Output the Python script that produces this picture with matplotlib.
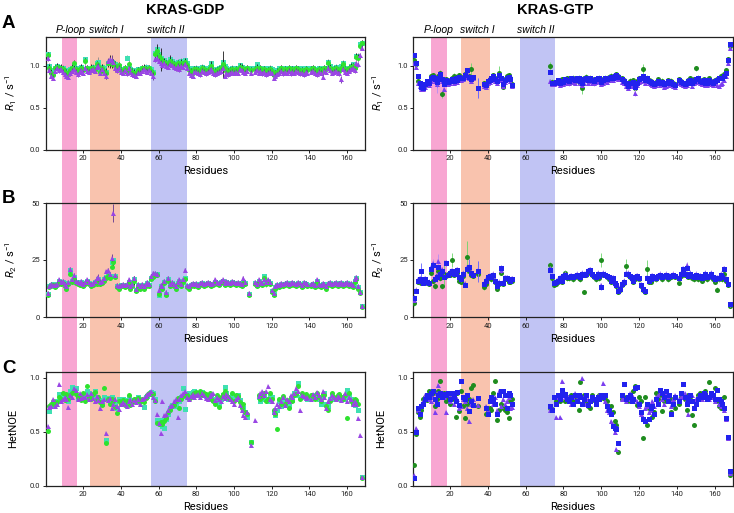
import numpy as np
import matplotlib
matplotlib.use('Agg')
import matplotlib.pyplot as plt
from matplotlib.patches import Rectangle
from matplotlib.transforms import blended_transform_factory

plt.rcParams['font.family'] = ['Roboto', 'DejaVu Sans']
plt.rcParams['mathtext.fontset'] = 'custom'
plt.rcParams['mathtext.rm'] = 'Roboto'
plt.rcParams['mathtext.it'] = 'Roboto:italic'

residues = np.arange(1, 169)
gap = [None] * 19   # residues 54-72 not assigned in KRAS-GTP

##############################################
# KRAS-GDP R1 (green circles, cyan squares, purple triangles)
r1_gdp_green = [
    1.13, 0.98, 0.92, 0.89, 0.97, 0.99, 0.97, 0.98, 0.96, 0.93,
    0.92, 0.90, 0.95, 0.98, 1.03, 0.96, 0.93, 0.96, 0.98, 0.95,
    1.06, 0.97, 0.95, 0.98, 0.97, 0.95, 1.02, 1.00, 0.93, 0.98,
    0.94, 0.91, 1.03, 1.05, 1.02, 1.04, 1.00, 0.97, 1.01, 0.95,
    0.94, 0.97, 0.93, 1.02, 0.95, 0.93, 0.92, 0.91, 0.95, 0.94,
    0.97, 0.98, 0.96, 0.95, 0.97, 0.94, 0.91, 1.14, 1.18, 1.12,
    1.08, 1.04, 1.05, 1.03, 1.02, 1.06, 1.04, 1.02, 1.00, 1.03,
    0.98, 1.04, 1.02, 1.05, 1.01, 0.95, 0.93, 0.92, 0.96, 0.96,
    0.95, 0.93, 0.97, 0.96, 0.94, 0.95, 0.97, 1.00, 0.94, 0.93,
    0.95, 0.96, 0.97, 1.02, 0.98, 0.94, 0.93, 0.95, 0.96, 0.94,
    0.96, 0.95, 0.99, 0.98, 0.96, 0.95, 0.97, None, 0.95, None,
    0.96, 0.98, 0.95, 0.97, 0.94, 0.96, 0.93, 0.95, 0.96, 0.94,
    0.89, 0.91, 0.93, 0.95, 0.97, 0.94, 0.96, 0.95, 0.97, 0.94,
    0.96, 0.95, 0.97, 0.96, 0.94, 0.95, 0.93, 0.96, 0.95, None,
    0.96, 0.97, 0.95, 0.93, 0.96, 0.95, 0.94, 0.97, 0.96, 1.03,
    0.98, 0.95, 0.96, 0.97, 0.95, 0.94, 0.98, 1.02, 0.96, 0.95,
    0.97, 0.99, 1.00, 0.98, 1.11, 1.10, 1.24, 1.27]
r1_gdp_cyan = [
    1.14, 1.00, 0.95, 0.91, 0.98, 1.00, 0.99, 0.97, 0.98, 0.95,
    0.94, 0.92, 0.96, 0.97, 1.00, 0.98, 0.95, 0.97, 0.99, 0.96,
    1.08, 0.98, 0.97, 0.96, 0.99, 0.97, 1.03, 1.05, 0.95, 0.99,
    0.97, 0.93, 1.04, 1.06, 1.05, 1.03, 1.02, 0.99, 1.00, 0.96,
    0.96, 0.98, 1.10, 0.97, 0.96, 0.94, 0.95, 0.93, 0.96, 0.95,
    0.98, 0.97, 0.99, 0.96, 0.98, 0.96, 0.93, 1.15, 1.20, 1.14,
    1.10, 1.06, 1.07, 1.05, 1.04, 1.08, 1.06, 1.04, 1.03, 1.05,
    1.00, 1.06, 1.04, 1.07, 1.03, 0.97, 0.95, 0.94, 0.97, 0.98,
    0.97, 0.95, 0.99, 0.98, 0.96, 0.97, 0.99, 1.03, 0.96, 0.95,
    0.96, 0.98, 0.99, 1.05, 1.00, 0.97, 0.95, 0.96, 0.98, 0.95,
    0.97, 0.97, 1.01, 0.99, 0.97, 0.96, 0.98, None, 0.97, None,
    0.97, 1.02, 0.97, 0.98, 0.96, 0.97, 0.95, 0.97, 0.98, 0.96,
    0.90, 0.93, 0.95, 0.97, 0.98, 0.96, 0.97, 0.97, 0.98, 0.96,
    0.97, 0.97, 0.98, 0.97, 0.96, 0.97, 0.95, 0.97, 0.96, None,
    0.97, 0.98, 0.96, 0.95, 0.97, 0.96, 0.96, 0.98, 0.97, 1.05,
    1.00, 0.97, 0.98, 0.99, 0.97, 0.96, 1.00, 1.04, 0.98, 0.97,
    0.98, 1.00, 1.02, 0.99, 1.12, 1.12, 1.26, 1.28]
r1_gdp_purple = [
    1.09, 0.95, 0.88, 0.86, 0.94, 0.97, 0.95, 0.96, 0.93, 0.90,
    0.88, 0.87, 0.91, 0.94, 0.96, 0.93, 0.90, 0.93, 0.95, 0.92,
    0.98, 0.94, 0.93, 0.95, 0.96, 0.94, 0.99, 1.00, 0.92, 0.96,
    0.92, 0.88, 1.06, 1.08, 1.07, 1.05, 0.98, 0.95, 0.98, 0.93,
    0.92, 0.95, 0.91, 0.97, 0.93, 0.90, 0.89, 0.88, 0.92, 0.92,
    0.94, 0.96, 0.94, 0.93, 0.95, 0.92, 0.88, 1.08, 1.10, 1.06,
    1.04, 1.01, 1.03, 1.00, 0.99, 1.02, 1.01, 0.99, 0.97, 1.00,
    0.96, 1.00, 0.99, 1.02, 0.98, 0.92, 0.89, 0.88, 0.93, 0.93,
    0.92, 0.90, 0.94, 0.93, 0.91, 0.93, 0.94, 0.96, 0.91, 0.90,
    0.92, 0.93, 0.94, 0.97, 0.88, 0.91, 0.90, 0.92, 0.93, 0.92,
    0.93, 0.92, 0.96, 0.95, 0.93, 0.92, 0.94, None, 0.92, None,
    0.93, 0.95, 0.92, 0.94, 0.91, 0.93, 0.90, 0.92, 0.93, 0.91,
    0.86, 0.88, 0.90, 0.92, 0.94, 0.91, 0.93, 0.92, 0.94, 0.91,
    0.93, 0.92, 0.94, 0.93, 0.91, 0.92, 0.90, 0.93, 0.92, None,
    0.93, 0.94, 0.92, 0.90, 0.93, 0.92, 0.87, 0.94, 0.93, 0.98,
    0.95, 0.92, 0.93, 0.94, 0.92, 0.91, 0.84, 0.96, 0.93, 0.92,
    0.94, 0.96, 0.97, 0.95, 1.03, 1.02, 1.13, 1.22]

# KRAS-GTP R1 (dark green circles, blue squares, purple triangles)
r1_gtp_green = [
    1.07, 1.02, 0.82, 0.78, 0.74, 0.73, 0.77, 0.80, 0.79, 0.88,
    0.89, 0.85, 0.82, 0.88, 0.92, 0.66, 0.80, 0.84, 0.80, 0.83,
    0.85, 0.88, 0.87, 0.84, 0.89, 0.86, 0.87, 0.90, 0.95, 0.88,
    0.96, 0.86, None, None, None, None, None, 0.79, 0.78, 0.80,
    0.84, 0.86, 0.89, 0.86, 0.84, 0.92, 0.86, 0.75, 0.84, 0.88,
    0.89, 0.85, 0.78] + gap + [
    1.00, 0.81, 0.79, 0.80, 0.82, 0.81, 0.84, 0.80,
    0.83, 0.85, 0.80, 0.84, 0.86, 0.82, 0.84, 0.86, 0.79, 0.74,
    0.85, 0.87, 0.82, 0.86, 0.84, 0.81, 0.83, 0.85, 0.86, 0.80,
    0.84, 0.86, 0.85, 0.87, 0.88, 0.86, 0.89, 0.90, 0.88, None,
    0.85, 0.83, 0.80, 0.78, 0.82, 0.80, 0.83, 0.74, 0.82, 0.85,
    0.86, 0.96, 0.84, 0.86, 0.83, 0.82, 0.80, 0.79, 0.81, 0.84,
    0.80, 0.82, 0.78, 0.80, 0.83, 0.81, 0.82, 0.79, 0.78, None,
    0.84, 0.82, 0.80, 0.79, 0.81, 0.83, 0.85, 0.80, 0.84, 0.97,
    0.86, 0.83, 0.82, 0.84, 0.80, 0.81, 0.85, 0.82, 0.80, 0.83,
    0.84, 0.86, 0.88, 0.86, 0.90, 0.95, 1.08, 1.24]
r1_gtp_blue = [
    1.13, 1.04, 0.88, 0.80, 0.75, 0.74, 0.78, 0.82, 0.80, 0.85,
    0.87, 0.84, 0.81, 0.86, 0.90, 0.84, 0.78, 0.83, 0.81, 0.82,
    0.84, 0.82, 0.86, 0.83, 0.87, 0.85, 0.86, 0.89, 0.95, 0.87,
    0.84, 0.87, None, None, 0.74, None, None, 0.78, 0.77, 0.82,
    0.83, 0.85, 0.88, 0.84, 0.82, 0.89, 0.85, 0.78, 0.83, 0.86,
    0.87, 0.84, 0.77] + gap + [
    0.93, 0.80, 0.80, 0.81, 0.83, 0.80, 0.82, 0.81,
    0.84, 0.83, 0.82, 0.85, 0.84, 0.83, 0.86, 0.85, 0.82, 0.80,
    0.84, 0.86, 0.83, 0.85, 0.83, 0.82, 0.84, 0.86, 0.85, 0.81,
    0.83, 0.85, 0.84, 0.86, 0.87, 0.85, 0.88, 0.89, 0.87, None,
    0.84, 0.82, 0.79, 0.76, 0.80, 0.79, 0.81, 0.75, 0.80, 0.84,
    0.85, 0.88, 0.83, 0.85, 0.82, 0.81, 0.80, 0.78, 0.80, 0.82,
    0.79, 0.81, 0.78, 0.79, 0.82, 0.80, 0.81, 0.78, 0.77, None,
    0.83, 0.81, 0.80, 0.78, 0.80, 0.82, 0.83, 0.79, 0.82, 0.84,
    0.85, 0.82, 0.81, 0.83, 0.79, 0.80, 0.83, 0.81, 0.80, 0.82,
    0.83, 0.85, 0.86, 0.85, 0.88, 0.92, 1.07, 1.26]
r1_gtp_purple = [
    1.03, 0.99, 0.80, 0.76, 0.73, 0.72, 0.75, 0.78, 0.77, 0.82,
    0.84, 0.82, 0.78, 0.84, 0.88, 0.82, 0.72, 0.80, 0.78, 0.80,
    0.82, 0.80, 0.84, 0.81, 0.85, 0.83, 0.84, 0.87, 0.92, 0.85,
    0.82, 0.85, None, None, 0.74, None, None, 0.76, 0.75, 0.79,
    0.81, 0.83, 0.86, 0.82, 0.80, 0.87, 0.83, 0.76, 0.81, 0.84,
    0.85, 0.82, 0.76] + gap + [
    0.82, 0.78, 0.78, 0.79, 0.80, 0.77, 0.79, 0.78,
    0.81, 0.80, 0.79, 0.82, 0.81, 0.80, 0.83, 0.82, 0.79, 0.77,
    0.80, 0.83, 0.80, 0.82, 0.80, 0.79, 0.81, 0.83, 0.82, 0.78,
    0.80, 0.82, 0.81, 0.83, 0.84, 0.83, 0.85, 0.86, 0.84, None,
    0.81, 0.79, 0.76, 0.74, 0.77, 0.76, 0.78, 0.68, 0.77, 0.81,
    0.82, 0.85, 0.80, 0.82, 0.79, 0.78, 0.77, 0.76, 0.77, 0.79,
    0.77, 0.78, 0.75, 0.76, 0.79, 0.77, 0.78, 0.76, 0.75, None,
    0.80, 0.78, 0.77, 0.76, 0.77, 0.79, 0.80, 0.76, 0.79, 0.81,
    0.82, 0.79, 0.78, 0.80, 0.77, 0.77, 0.80, 0.78, 0.77, 0.79,
    0.77, 0.76, 0.78, 0.80, 0.83, 0.88, 1.04, 1.22]

##############################################
# KRAS-GDP R2
r2_gdp_green = [
    9.5, 13.0, 13.5, 14.0, 13.0, 14.0, 15.5, 14.5, 15.0, 13.5,
    12.5, 14.5, 19.0, 15.5, 16.5, 15.0, 14.5, 14.0, 15.0, 13.5,
    14.5, 15.5, 14.5, 13.5, 14.0, 15.0, 14.5, 16.0, 14.5, 15.0,
    16.0, 17.0, 18.0, 17.0, 22.0, 24.0, 17.5, 13.0, 12.5, 13.5,
    13.5, 13.0, 13.5, 15.0, 12.5, 13.5, 16.0, 11.5, 13.5, 12.5,
    13.5, 12.5, 13.5, 14.5, 13.5, 16.5, 17.5, 18.5, 18.5, 10.0,
    13.0, 12.5, 15.0, 9.5, 16.0, 13.5, 14.5, 13.5, 12.5, 14.5,
    15.5, 13.5, 15.5, 16.5, 13.0, 12.5, 13.5, 14.0, 13.5, 14.0,
    13.0, 14.0, 14.5, 13.5, 14.0, 14.5, 14.0, 13.5, 14.0, 15.0,
    14.5, 14.0, 15.0, 15.5, 14.0, 15.0, 14.5, 14.0, 15.0, 14.5,
    14.0, 14.5, 14.0, 13.5, 15.0, 14.5, None, 9.5, None, None,
    14.5, 13.5, 15.5, 14.5, 14.0, 17.0, 14.5, 15.5, 14.5, 11.0,
    9.5, 12.5, 13.5, 13.0, 14.0, 13.5, 14.0, 14.5, 13.5, 14.0,
    14.5, 14.0, 13.5, 14.5, 14.0, 13.0, 14.5, 14.0, 13.5, None,
    13.5, 14.0, 13.0, 15.5, 13.5, 13.0, 14.0, 13.5, 12.5, 14.0,
    14.5, 13.5, 14.0, 14.5, 13.5, 14.0, 14.5, 13.5, 14.0, 14.5,
    13.5, 14.0, 13.0, 15.5, 16.5, 12.5, 10.5, 4.5]
r2_gdp_cyan = [
    10.0, 13.5, 14.0, 14.5, 13.5, 14.5, 16.0, 15.0, 15.5, 14.0,
    13.0, 15.0, 20.5, 16.0, 17.5, 15.5, 15.0, 14.5, 15.5, 14.0,
    15.0, 16.0, 15.0, 14.0, 14.5, 15.5, 15.0, 16.5, 15.0, 15.5,
    16.5, 17.5, 19.0, 18.0, 24.0, 25.0, 18.0, 13.5, 13.0, 14.0,
    14.0, 13.5, 14.0, 15.5, 13.0, 14.0, 16.5, 12.0, 14.0, 13.0,
    14.0, 13.0, 14.0, 15.0, 14.0, 17.0, 18.0, 19.0, 19.0, 9.8,
    13.5, 13.0, 15.5, 10.0, 16.5, 14.0, 15.0, 14.0, 13.0, 15.0,
    16.0, 14.0, 16.0, 17.0, 13.5, 13.0, 14.0, 14.5, 14.0, 14.5,
    13.5, 14.5, 15.0, 14.0, 14.5, 15.0, 14.5, 14.0, 14.5, 15.5,
    15.0, 14.5, 15.5, 16.0, 14.5, 15.5, 15.0, 14.5, 15.5, 15.0,
    14.5, 15.0, 14.5, 14.0, 15.5, 15.0, None, 10.0, None, None,
    15.0, 14.0, 16.0, 15.0, 14.5, 18.0, 15.0, 16.0, 15.0, 11.5,
    10.0, 13.0, 14.0, 13.5, 14.5, 14.0, 14.5, 15.0, 14.0, 14.5,
    15.0, 14.5, 14.0, 15.0, 14.5, 13.5, 15.0, 14.5, 14.0, None,
    14.0, 14.5, 13.5, 16.0, 14.0, 13.5, 14.5, 14.0, 13.0, 14.5,
    15.0, 14.0, 14.5, 15.0, 14.0, 14.5, 15.0, 14.0, 14.5, 15.0,
    14.0, 14.5, 13.5, 16.0, 17.0, 13.0, 11.0, 5.0]
r2_gdp_purple = [
    10.5, 13.5, 14.5, 14.0, 14.0, 14.5, 16.5, 15.5, 16.0, 14.5,
    13.5, 15.5, 21.0, 16.5, 18.5, 16.0, 15.5, 15.0, 16.0, 14.5,
    15.5, 16.5, 15.5, 14.5, 15.0, 16.0, 17.0, 17.5, 15.5, 16.0,
    17.0, 20.0, 20.5, 19.0, 26.0, 45.5, 18.5, 14.0, 13.5, 14.0,
    14.5, 14.0, 14.5, 16.5, 13.5, 14.5, 17.0, 12.5, 14.5, 13.5,
    14.5, 13.5, 14.5, 15.5, 14.5, 18.0, 19.5, 19.5, 19.0, 12.0,
    14.0, 13.5, 16.0, 11.0, 17.0, 14.5, 15.5, 14.5, 13.5, 15.5,
    16.5, 14.5, 16.5, 20.5, 14.0, 13.5, 14.5, 15.0, 14.5, 15.0,
    14.0, 15.0, 15.5, 14.5, 15.0, 15.5, 15.0, 14.5, 15.0, 16.5,
    15.5, 15.0, 16.0, 16.5, 15.0, 16.0, 15.5, 15.0, 16.0, 15.5,
    15.0, 15.5, 15.0, 14.5, 17.0, 15.5, None, 10.5, None, None,
    15.5, 14.5, 16.5, 15.5, 15.0, 16.5, 15.5, 16.5, 15.5, 12.0,
    10.5, 13.5, 14.5, 14.0, 15.0, 14.5, 15.0, 15.5, 14.5, 15.0,
    15.5, 15.0, 14.5, 15.5, 15.0, 14.0, 15.5, 15.0, 14.5, None,
    14.5, 15.0, 14.0, 16.5, 14.5, 14.0, 15.0, 14.5, 13.5, 15.0,
    15.5, 14.5, 15.0, 15.5, 14.5, 15.0, 15.5, 14.5, 15.0, 15.5,
    14.5, 15.0, 14.0, 16.5, 17.5, 13.5, 11.0, 5.0]

# KRAS-GTP R2
r2_gtp_green = [
    6.0, 11.5, 15.5, 16.0, 15.0, 15.5, 16.0, 15.0, 14.5, 19.5,
    16.0, 13.5, 18.0, 20.0, 17.0, 13.5, 19.0, 18.0, 19.0, 18.5,
    25.0, 18.5, 19.0, 19.5, 16.0, 15.5, 18.0, 14.0, 26.5, 20.0,
    18.5, 18.0, None, None, 19.0, None, None, 13.0, 14.5, 17.0,
    17.5, 16.5, 18.0, 15.5, 12.5, 14.5, 19.5, 14.5, 16.5, 16.5,
    15.5, 15.5, 16.0] + gap + [
    23.0, 17.0, 14.0, 14.5, 15.5, 16.5, 15.5, 17.5,
    19.5, 17.0, 17.0, 17.5, 16.5, 17.5, 18.0, 17.0, 16.5, 18.5,
    11.0, 18.5, 19.5, 20.0, 18.5, 17.5, 16.5, 18.5, 17.0, 25.0,
    18.5, 18.5, 17.5, 16.5, 15.5, 16.5, 14.5, 13.5, 11.0, 12.0,
    14.0, 15.0, 22.5, 18.5, 17.5, 16.5, 15.5, 16.5, 17.5, 16.5,
    13.5, 12.0, 11.0, 21.0, 15.5, 15.5, 17.5, 17.0, 16.5, 17.5,
    18.0, 16.5, 17.5, 18.0, 16.5, 17.0, 17.5, 18.0, 17.5, None,
    15.0, 18.0, 19.5, 18.5, 19.0, 17.5, 18.5, 17.0, 16.5, 18.0,
    16.5, 17.5, 16.0, 17.0, 18.5, 16.5, 17.5, 18.5, 16.5, 15.5,
    12.0, 16.5, 17.5, 16.5, 19.0, 16.0, 14.0, 5.0]
r2_gtp_blue = [
    8.5, 11.5, 16.0, 16.5, 20.0, 15.0, 16.5, 15.5, 15.0, 21.0,
    23.0, 16.5, 17.5, 22.0, 19.0, 20.0, 17.5, 23.5, 18.5, 19.5,
    20.0, 19.0, 19.5, 20.5, 17.5, 16.5, 19.0, 14.0, 21.0, 22.0,
    19.5, 18.5, None, None, 20.0, None, None, 14.5, 16.0, 17.5,
    18.0, 17.5, 18.5, 16.0, 13.5, 15.0, 21.5, 15.0, 17.0, 17.0,
    16.5, 16.0, 16.5] + gap + [
    20.5, 18.0, 15.0, 15.5, 16.0, 17.0, 16.0, 18.0,
    18.5, 17.5, 17.5, 18.0, 17.5, 18.0, 18.5, 18.0, 17.5, 19.0,
    18.5, 19.0, 20.0, 20.5, 19.0, 18.0, 17.5, 19.0, 18.0, 13.0,
    19.0, 18.5, 18.0, 17.5, 16.0, 17.0, 15.0, 14.0, 11.5, 12.5,
    14.5, 15.5, 19.0, 19.0, 18.0, 17.0, 16.0, 17.5, 18.0, 17.0,
    14.0, 12.5, 11.5, 17.0, 16.0, 16.5, 18.0, 17.5, 17.0, 18.0,
    18.5, 17.5, 18.0, 18.5, 17.5, 18.0, 18.0, 18.5, 18.0, None,
    17.0, 19.0, 21.0, 19.0, 21.5, 18.0, 19.0, 18.0, 17.5, 18.5,
    17.5, 18.0, 17.0, 17.5, 19.0, 17.5, 18.0, 19.0, 17.5, 16.5,
    17.0, 17.0, 18.5, 17.5, 21.0, 16.5, 14.5, 5.5]
r2_gtp_purple = [
    7.5, 12.0, 16.5, 17.0, 16.5, 16.0, 17.0, 16.0, 15.5, 22.0,
    23.5, 17.0, 18.5, 24.5, 19.5, 21.0, 18.0, 24.0, 19.0, 20.0,
    20.5, 19.5, 20.0, 21.0, 18.0, 17.0, 19.5, 15.0, 22.0, 22.5,
    20.0, 19.0, None, None, 20.5, None, None, 15.0, 16.5, 18.0,
    18.5, 18.0, 19.0, 16.5, 14.0, 15.5, 20.5, 15.5, 17.5, 17.5,
    17.0, 16.5, 17.0] + gap + [
    21.5, 18.5, 15.5, 16.0, 16.5, 17.5, 16.5, 18.5,
    19.0, 18.0, 18.0, 18.5, 18.0, 18.5, 19.0, 18.5, 18.0, 19.5,
    19.0, 19.5, 20.5, 21.0, 19.5, 18.5, 18.0, 19.5, 18.5, 14.0,
    19.5, 19.0, 18.5, 18.0, 16.5, 17.5, 15.5, 14.5, 12.0, 13.0,
    15.0, 16.0, 19.5, 19.5, 18.5, 17.5, 16.5, 18.0, 18.5, 17.5,
    14.5, 13.0, 12.0, 17.5, 16.5, 17.0, 18.5, 18.0, 17.5, 18.5,
    19.0, 18.0, 18.5, 19.0, 18.0, 18.5, 18.5, 19.0, 18.5, None,
    17.5, 19.5, 21.5, 20.0, 23.0, 18.5, 19.5, 18.5, 18.0, 19.0,
    18.0, 18.5, 17.5, 18.0, 19.5, 18.0, 18.5, 19.5, 18.0, 17.0,
    17.5, 17.5, 19.0, 18.0, 21.5, 17.0, 15.0, 5.5]

##############################################
# KRAS-GDP HetNOE
noe_gdp_green = [
    0.51, 0.74, 0.76, 0.78, 0.75, 0.77, 0.82, 0.80, 0.86, 0.79,
    0.85, 0.80, 0.84, 0.86, 0.88, 0.85, 0.82, 0.84, 0.79, 0.86,
    0.78, 0.92, 0.82, 0.80, 0.85, 0.87, 0.79, 0.82, 0.77, 0.75,
    0.90, 0.39, 0.80, 0.76, 0.80, 0.78, 0.73, 0.67, 0.78, 0.76,
    0.79, 0.75, 0.78, 0.84, 0.75, 0.77, 0.80, 0.78, 0.81, 0.77,
    0.80, 0.77, 0.81, 0.84, 0.86, 0.85, 0.85, 0.78, 0.58, 0.57,
    0.59, 0.57, 0.60, 0.63, 0.68, 0.70, 0.74, 0.75, 0.78, 0.81,
    0.72, 0.80, 0.83, 0.84, 0.84, 0.80, 0.82, 0.85, 0.86, 0.87,
    0.86, 0.88, 0.84, 0.86, 0.85, 0.84, 0.86, 0.80, 0.78, 0.76,
    0.84, 0.73, 0.82, 0.85, 0.88, 0.84, 0.82, 0.80, 0.86, 0.78,
    0.84, 0.83, 0.77, 0.72, 0.76, 0.68, 0.66, None, 0.40, None,
    None, None, 0.84, 0.80, 0.82, 0.86, 0.78, 0.80, 0.86, 0.80,
    0.70, 0.66, 0.52, 0.80, 0.76, 0.83, 0.76, 0.79, 0.72, 0.82,
    0.78, 0.84, 0.85, 0.92, 0.80, 0.86, 0.84, 0.85, 0.82, None,
    0.84, 0.83, 0.80, 0.86, 0.82, 0.78, 0.85, 0.84, 0.74, 0.70,
    0.78, 0.86, 0.82, 0.80, 0.84, 0.85, 0.82, 0.80, 0.84, 0.63,
    0.86, 0.78, 0.76, 0.80, 0.79, 0.76, None, 0.07]
noe_gdp_cyan = [
    None, 0.69, 0.74, 0.76, 0.77, 0.78, 0.85, 0.81, 0.82, 0.80,
    0.83, 0.78, 0.88, 0.91, 0.87, 0.90, 0.81, 0.83, 0.80, 0.84,
    0.80, 0.88, 0.86, 0.81, 0.83, 0.88, 0.82, 0.80, 0.79, 0.76,
    0.82, 0.42, 0.81, 0.78, 0.82, 0.80, 0.76, 0.72, 0.80, 0.78,
    0.80, 0.77, 0.79, 0.82, 0.76, 0.78, 0.79, 0.80, 0.82, 0.78,
    0.79, 0.73, 0.82, 0.83, 0.85, 0.87, 0.86, 0.80, 0.61, 0.60,
    0.61, 0.55, 0.53, 0.62, 0.66, 0.72, 0.75, 0.74, 0.76, 0.79,
    0.78, 0.82, 0.90, 0.71, 0.83, 0.86, 0.84, 0.87, 0.88, 0.85,
    0.84, 0.86, 0.87, 0.85, 0.83, 0.82, 0.84, 0.82, 0.79, 0.80,
    0.82, 0.76, 0.80, 0.84, 0.91, 0.86, 0.80, 0.82, 0.84, 0.80,
    0.82, 0.84, 0.79, 0.74, 0.72, 0.68, 0.64, None, 0.40, None,
    None, None, 0.82, 0.78, 0.80, 0.84, 0.80, 0.78, 0.84, 0.82,
    0.68, 0.65, 0.70, 0.78, 0.74, 0.80, 0.78, 0.76, 0.74, 0.80,
    0.79, 0.86, 0.84, 0.95, 0.82, 0.84, 0.82, 0.83, 0.80, None,
    0.82, 0.84, 0.81, 0.84, 0.80, 0.76, 0.83, 0.86, 0.76, 0.74,
    0.80, 0.84, 0.80, 0.81, 0.82, 0.83, 0.80, 0.82, 0.80, 0.89,
    0.84, 0.80, 0.78, 0.75, 0.77, 0.70, None, 0.08]
noe_gdp_purple = [
    0.55, 0.73, 0.74, 0.80, 0.74, 0.76, 0.94, 0.78, 0.80, 0.82,
    0.80, 0.73, 0.84, 0.82, 0.90, 0.89, 0.80, 0.86, 0.81, 0.82,
    0.82, 0.85, 0.80, 0.86, 0.81, 0.78, 0.83, 0.79, 0.72, 0.78,
    0.80, 0.49, 0.79, 0.81, 0.72, 0.76, 0.80, 0.74, 0.71, 0.76,
    0.77, 0.76, 0.74, 0.78, 0.80, 0.76, 0.79, 0.77, 0.80, 0.76,
    0.80, 0.81, 0.83, 0.85, 0.86, 0.88, 0.82, 0.79, 0.66, 0.58,
    0.49, 0.78, 0.65, 0.66, 0.70, 0.74, 0.75, 0.78, 0.80, 0.64,
    0.80, 0.84, 0.86, 0.88, 0.82, 0.80, 0.83, 0.85, 0.82, 0.84,
    0.85, 0.82, 0.86, 0.84, 0.81, 0.80, 0.83, 0.85, 0.86, 0.79,
    0.82, 0.80, 0.78, 0.83, 0.81, 0.85, 0.83, 0.80, 0.78, 0.76,
    0.80, 0.82, 0.75, 0.70, 0.65, 0.64, 0.68, None, 0.38, None,
    0.61, None, 0.83, 0.86, 0.88, 0.84, 0.88, 0.92, 0.80, 0.78,
    0.68, 0.72, 0.76, 0.74, 0.78, 0.82, 0.75, 0.80, 0.78, 0.84,
    0.82, 0.86, 0.90, 0.88, 0.70, 0.84, 0.83, 0.81, 0.82, None,
    0.80, 0.85, 0.82, 0.87, 0.84, 0.80, 0.88, 0.82, 0.72, 0.78,
    0.81, 0.84, 0.82, 0.80, 0.83, 0.82, 0.79, 0.82, 0.86, 0.78,
    0.82, 0.80, 0.76, 0.78, 0.76, 0.63, 0.47, 0.08]

# KRAS-GTP HetNOE
noe_gtp_green = [
    0.19, 0.48, 0.68, 0.64, 0.70, 0.80, 0.82, 0.79, 0.88, 0.84,
    0.86, 0.74, 0.80, 0.88, 0.97, 0.84, 0.86, 0.78, 0.80, 0.76,
    0.84, 0.80, 0.64, 0.86, 0.69, 0.88, 0.74, 0.63, 0.76, 0.80,
    0.90, 0.93, None, None, 0.74, None, None, None, 0.66, 0.68,
    0.72, 0.70, 0.86, 0.97, 0.61, 0.70, 0.76, 0.72, 0.70, 0.68,
    0.63, 0.78, 0.80] + gap + [
    0.72, 0.71, 0.82, 0.78, 0.80, 0.78, 0.84, 0.86,
    0.78, 0.80, 0.82, 0.84, 0.78, 0.82, 0.80, 0.70, 0.96, 0.82,
    0.84, 0.78, 0.74, 0.72, 0.84, 0.79, 0.80, 0.82, 0.84, 0.82,
    0.81, 0.80, 0.78, 0.72, 0.74, 0.68, 0.60, 0.56, 0.31, None,
    0.80, 0.82, 0.80, 0.78, 0.84, 0.80, 0.88, 0.92, 0.75, 0.82,
    0.78, 0.44, 0.82, 0.56, 0.72, 0.70, 0.64, 0.68, 0.86, 0.80,
    0.84, 0.69, 0.78, 0.86, 0.82, 0.80, 0.68, 0.80, 0.72, None,
    0.76, 0.82, 0.84, 0.80, 0.70, 0.84, 0.80, 0.65, 0.56, 0.78,
    0.84, 0.86, 0.82, 0.86, 0.88, 0.80, 0.96, 0.84, 0.82, 0.90,
    0.78, 0.74, 0.72, 0.73, 0.82, 0.63, 0.44, 0.10]
noe_gtp_blue = [
    0.07, 0.50, 0.72, 0.66, 0.74, 0.76, 0.80, 0.84, 0.82, 0.86,
    0.88, 0.80, 0.76, 0.84, 0.86, 0.82, 0.85, 0.84, 0.86, 0.80,
    0.86, 0.82, 0.78, 0.87, 0.75, 0.97, 0.82, 0.80, 0.84, 0.69,
    0.78, 0.75, None, None, 0.81, None, None, None, 0.72, 0.66,
    0.78, 0.82, 0.80, 0.76, 0.66, 0.84, 0.88, 0.88, 0.84, 0.72,
    0.86, 0.84, 0.76] + gap + [
    0.74, 0.70, 0.82, 0.76, 0.84, 0.80, 0.89, 0.84,
    0.85, 0.80, 0.78, 0.82, 0.76, 0.84, 0.78, 0.84, 0.82, 0.76,
    0.80, 0.84, 0.75, 0.78, 0.82, 0.80, 0.76, 0.82, 0.80, 0.84,
    0.82, 0.84, 0.74, 0.70, 0.66, 0.55, 0.53, 0.52, 0.39, None,
    0.84, 0.94, 0.80, 0.82, 0.84, 0.78, 0.80, 0.90, 0.91, 0.76,
    0.68, 0.62, 0.60, 0.76, 0.62, 0.72, 0.74, 0.66, 0.80, 0.76,
    0.89, 0.86, 0.82, 0.88, 0.78, 0.84, 0.66, 0.76, 0.82, None,
    0.78, 0.86, 0.94, 0.82, 0.76, 0.80, 0.84, 0.78, 0.72, 0.76,
    0.80, 0.84, 0.82, 0.86, 0.84, 0.80, 0.82, 0.86, 0.84, 0.80,
    0.89, 0.80, 0.78, 0.76, 0.72, 0.63, 0.45, 0.13]
noe_gtp_purple = [
    0.10, 0.53, 0.70, 0.68, 0.75, 0.78, 0.84, 0.82, 0.80, 0.78,
    0.82, 0.68, 0.86, 0.93, 0.86, 0.84, 0.82, 0.68, 0.84, 0.78,
    0.84, 0.76, 0.82, 0.80, 0.72, 0.74, 0.80, 0.78, 0.72, 0.60,
    0.76, 0.80, None, None, 0.75, None, None, None, 0.74, 0.70,
    0.80, 0.78, 0.76, 0.82, 0.70, 0.88, 0.74, 0.80, 0.76, 0.78,
    0.82, 0.72, 0.73] + gap + [
    0.70, 0.72, 0.82, 0.64, 0.82, 0.64, 0.97, 0.86,
    0.82, 0.84, 0.80, 0.76, 0.82, 0.86, 0.80, 0.78, 0.84, 1.00,
    0.82, 0.76, 0.80, 0.78, 0.80, 0.82, 0.78, 0.80, 0.84, 0.82,
    0.95, 0.78, 0.70, 0.68, 0.60, 0.56, 0.50, 0.34, None, None,
    0.80, 0.82, 0.78, 0.80, 0.86, 0.84, 0.82, 0.80, 0.78, 0.74,
    0.66, 0.64, 0.72, 0.74, 0.68, 0.70, 0.78, 0.74, 0.82, 0.84,
    0.86, 0.80, 0.76, 0.86, 0.82, 0.80, 0.74, 0.80, 0.84, None,
    0.80, 0.82, 0.84, 0.86, 0.80, 0.66, 0.80, 0.84, 0.78, 0.80,
    0.82, 0.84, 0.80, 0.86, 0.82, 0.84, 0.80, 0.86, 0.82, 0.78,
    0.80, 0.76, 0.74, 0.78, 0.70, 0.62, 0.44, 0.12]

##############################################
# error bars: typical size, plus residues with larger errors
r1_gdp_err = [(0.04, {32: 0.07, 34: 0.08, 37: 0.06, 59: 0.08, 61: 0.14, 66: 0.07, 88: 0.06, 94: 0.16}),
              (0.03, {28: 0.06, 117: 0.05}),
              (0.03, {35: 0.06, 57: 0.05, 157: 0.04})]
r1_gtp_err = [(0.03, {16: 0.04, 28: 0.08, 31: 0.07, 46: 0.08, 73: 0.05, 90: 0.08, 122: 0.06}),
              (0.025, {35: 0.12, 13: 0.06}),
              (0.025, {13: 0.1, 35: 0.12, 118: 0.04})]
r2_gdp_err = [(0.9, {36: 1.5, 13: 1.2, 47: 2.0}),
              (0.8, {117: 2.0}),
              (0.8, {36: 4.0, 35: 1.5, 28: 1.5})]
r2_gtp_err = [(1.0, {17: 6.0, 29: 7.0, 21: 3.0, 13: 2.5, 113: 3.0, 124: 4.0, 100: 3.0}),
              (1.0, {5: 3.5, 30: 3.5, 35: 4.5, 47: 1.5}),
              (1.0, {14: 3.0, 11: 2.0, 35: 4.0})]

# shaded regions (P-loop, switch I, switch II) in residue numbers
regions_gdp = [(8.5, 16.7), (23.7, 39.5), (55.7, 74.8)]
regions_gtp = [(10.0, 18.5), (26.0, 41.2), (57.0, 75.7)]
region_names = ['P-loop', 'switch I', 'switch II']
label_x_gdp = [13, 32, 64]
label_x_gtp = [14, 34.5, 65.5]
region_colors = ['#f8a6d2', '#f9c3ae', '#c1c4f4']

# marker styles (marker, face colour, error-bar colour, draw order)
gdp_styles = [('o', '#2fe22f', '#1a1a1a', 4), ('s', '#3fe0b2', '#8a8a8a', 3), ('^', '#9a46e4', '#5e3590', 5)]
gtp_styles = [('o', '#1f8c1f', '#6ad66a', 3), ('s', '#2222ee', '#6060ff', 5), ('^', '#7b3ef0', '#b58ef2', 4)]


def make_err(default, special):
    e = np.full(len(residues), default)
    for r, v in special.items():
        e[r - 1] = v
    return e


def draw_panel(ax, series, styles, errors=None):
    for k, (vals, st) in enumerate(zip(series, styles)):
        y = np.array(vals, dtype=float)
        if errors is None:
            ax.plot(residues, y, st[0], color=st[1], ms=3.6, mew=0, zorder=st[3])
        else:
            ax.errorbar(residues, y, yerr=make_err(*errors[k]), fmt=st[0], color=st[1],
                        ecolor=st[2], ms=3.6, mew=0, elinewidth=0.6, capsize=1.3,
                        capthick=0.6, zorder=st[3])


def style_axes(ax, xlim):
    ax.set_facecolor('none')
    ax.set_xlim(*xlim)
    ax.set_xticks([20, 40, 60, 80, 100, 120, 140, 160])
    for s in ax.spines.values():
        s.set_linewidth(0.9)
        s.set_color('#222222')
    ax.tick_params(labelsize=5.5, length=2.5, width=0.7, pad=1.5, colors='#222222')
    ax.set_xlabel('Residues', fontsize=8)
    ax.xaxis.set_label_coords(0.5, -0.15)
    ax.yaxis.set_label_coords(-0.085, 0.5)


fig = plt.figure(figsize=(7.34, 5.13), dpi=100)
W, H = 734.0, 513.0
cols = [45.7, 413.3]
rows = [(36.7, 149.5), (203.0, 317.0), (372.3, 485.5)]
xlims = [(0, 169.6), (0.7, 169.4)]

axes = []
for c, x0 in enumerate(cols):
    col = []
    for top, bot in rows:
        ax = fig.add_axes([x0 / W, 1 - bot / H, 319.4 / W, (bot - top) / H])
        style_axes(ax, xlims[c])
        col.append(ax)
    axes.append(col)

# panel A
draw_panel(axes[0][0], [r1_gdp_green, r1_gdp_cyan, r1_gdp_purple], gdp_styles, r1_gdp_err)
draw_panel(axes[1][0], [r1_gtp_green, r1_gtp_blue, r1_gtp_purple], gtp_styles, r1_gtp_err)
# panel B
draw_panel(axes[0][1], [r2_gdp_green, r2_gdp_cyan, r2_gdp_purple], gdp_styles, r2_gdp_err)
draw_panel(axes[1][1], [r2_gtp_green, r2_gtp_blue, r2_gtp_purple], gtp_styles, r2_gtp_err)
# panel C
draw_panel(axes[0][2], [noe_gdp_green, noe_gdp_cyan, noe_gdp_purple], gdp_styles)
draw_panel(axes[1][2], [noe_gtp_green, noe_gtp_blue, noe_gtp_purple], gtp_styles)

for c in range(2):
    a, b, cc = axes[c]
    a.set_ylim(0, 1.35)
    a.set_yticks([0.0, 0.5, 1.0])
    a.set_ylabel(r'$R_1$ / s$^{-1}$', fontsize=8)
    b.set_ylim(0, 50)
    b.set_yticks([0, 25, 50])
    b.set_ylabel(r'$R_2$ / s$^{-1}$', fontsize=8)
    cc.set_ylim(0, 1.05)
    cc.set_yticks([0.0, 0.5, 1.0])
    cc.set_ylabel('HetNOE', fontsize=8)

# shaded columns running from top of A to bottom of C
for c, regions, labx in [(0, regions_gdp, label_x_gdp), (1, regions_gtp, label_x_gtp)]:
    ax_top = axes[c][0]
    tr = blended_transform_factory(ax_top.transData, fig.transFigure)
    y_bot = 1 - rows[2][1] / H
    y_top = 1 - rows[0][0] / H
    for (x1, x2), colr in zip(regions, region_colors):
        fig.add_artist(Rectangle((x1, y_bot), x2 - x1, y_top - y_bot, transform=tr,
                                 facecolor=colr, edgecolor='none', zorder=-1))
    trt = blended_transform_factory(ax_top.transData, ax_top.transAxes)
    for name, xx in zip(region_names, labx):
        ax_top.text(xx, 1.055, name, transform=trt, ha='center', va='center',
                    fontsize=7.5, style='italic', family=['Liberation Sans', 'DejaVu Sans'])

fig.text(185 / W, 1 - 10 / H, 'KRAS-GDP', ha='center', va='center', fontsize=10.5,
         fontweight='bold', family=['Liberation Sans', 'DejaVu Sans'])
fig.text(555 / W, 1 - 10 / H, 'KRAS-GTP', ha='center', va='center', fontsize=10.5,
         fontweight='bold', family=['Liberation Sans', 'DejaVu Sans'])
for letter, yb in [('A', 28), ('B', 203), ('C', 373)]:
    fig.text(2 / W, 1 - yb / H, letter, ha='left', va='baseline', fontsize=13.5,
             fontweight='bold', family=['Liberation Sans', 'DejaVu Sans'])

fig.savefig('out.png', dpi=100)
